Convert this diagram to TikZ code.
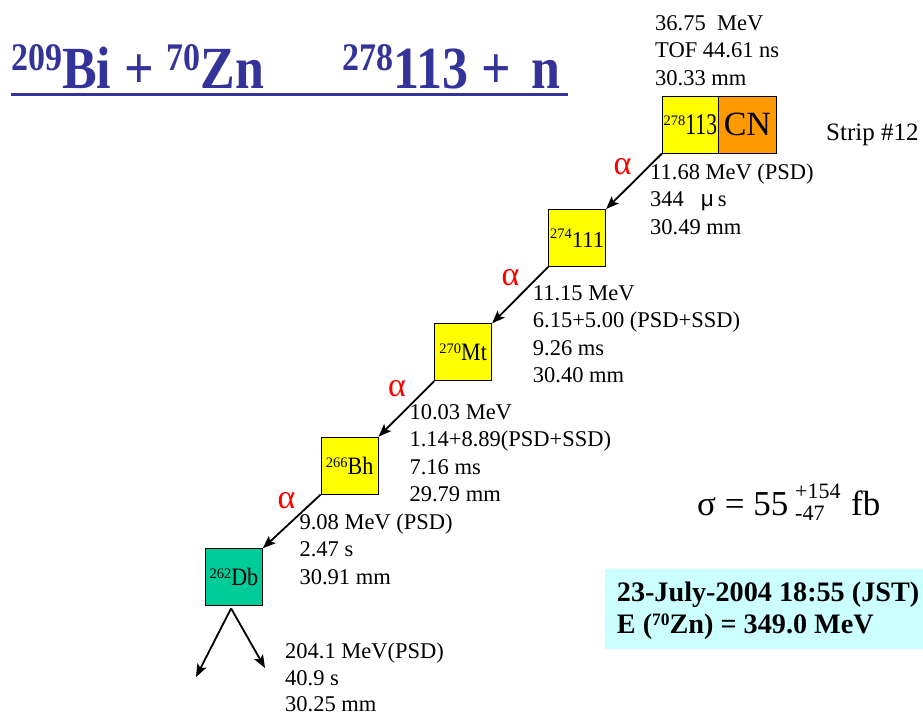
\documentclass[tikz,border=0pt]{standalone}
\usepackage{fontspec}
\setmainfont{Liberation Serif}
\newfontfamily\sansmu{Liberation Sans}
\usetikzlibrary{arrows.meta,calc}
\definecolor{titleblue}{RGB}{51,51,153}
\definecolor{boxyellow}{RGB}{255,255,0}
\definecolor{cnorange}{RGB}{255,153,0}
\definecolor{dbgreen}{RGB}{0,204,153}
\definecolor{notecyan}{RGB}{204,255,255}
\definecolor{alphared}{RGB}{255,0,0}
\newcommand{\nsup}[2]{\raisebox{#2}{\fontsize{14.5}{14.5}\selectfont #1}}
\newcommand{\tsup}[1]{\raisebox{15pt}{\fontsize{34}{34}\selectfont #1}}
\begin{document}
\begin{tikzpicture}[x=1pt,y=-1pt,
  nucl/.style={draw=black, line width=0.8pt, minimum width=57pt, minimum height=57pt,
               inner sep=0pt, anchor=north west, fill=boxyellow},
  info/.style={anchor=base west, inner sep=0pt, font=\fontsize{22.5}{27.5}\selectfont},
  alab/.style={text=alphared, font=\fontsize{34}{34}\selectfont, inner sep=0pt},
  decay/.style={line width=1.8pt, -{Stealth[length=13pt,width=10pt,inset=3pt]}},
  titletext/.style={anchor=base west, inner sep=0pt, text=titleblue},
  plain/.style={anchor=base west, inner sep=0pt},
]
\useasboundingbox (0,0) rectangle (923,715);

% title
\node[titletext] (titleL) at (11,88)
  {\scalebox{1}[1.15]{\fontsize{52}{52}\selectfont\bfseries \tsup{209}Bi + \tsup{70}Zn}};
\node[titletext] (titleR) at (342,88)
  {\scalebox{1}[1.15]{\fontsize{52}{52}\selectfont\bfseries \tsup{278}113 +\hspace{21pt}n}};
\draw[titleblue, line width=3pt] (10.7,94.6) -- (567.5,94.6);

% nuclei
\node[nucl, minimum width=56pt] (cn113) at (662,95.7)
  {\nsup{278}{9pt}\scalebox{0.72}[1]{\fontsize{30}{30}\selectfont 113}};
\node[nucl, fill=cnorange, minimum width=58pt] (cn) at (718,95.7)
  {\fontsize{34}{34}\selectfont CN};
\node[nucl] (n274) at (548.3,209)
  {\nsup{274}{9pt}{\fontsize{22.7}{22.7}\selectfont 111}};
\node[nucl] (mt) at (434.3,323.3)
  {\nsup{270}{7pt}\scalebox{0.88}[1]{\fontsize{25}{25}\selectfont Mt}};
\node[nucl] (bh) at (320.7,436.7)
  {\nsup{266}{7pt}\scalebox{0.88}[1]{\fontsize{25}{25}\selectfont Bh}};
\node[nucl, fill=dbgreen] (db) at (205,548.3)
  {\nsup{262}{7pt}\scalebox{0.88}[1]{\fontsize{25}{25}\selectfont Db}};

% decays
\draw[decay] (cn113.south west) -- (n274.north east);
\draw[decay] (n274.south west) -- (mt.north east);
\draw[decay] (mt.south west) -- (bh.north east);
\draw[decay] (bh.south west) -- (db.north east);
\coordinate (split) at ($(db.south)+(-2.8,2.3)$);
\coordinate (fragL) at (196,677);
\coordinate (fragR) at (265,668);
\draw[decay] (split) -- (fragL);
\draw[decay] (split) -- (fragR);

% alpha labels
\node[alab] (a1) at (622.5,167) {α};
\node[alab] (a2) at (510.5,277.5) {α};
\node[alab] (a3) at (397,389) {α};
\node[alab] (a4) at (286.5,500.5) {α};

% data
\node[info] (d0) at (655,30) {\begin{tabular}[t]{@{}l@{}}36.75\ \ MeV\\TOF 44.61 ns\\30.33 mm\end{tabular}};
\node[info] (d1) at (650,179.3) {\begin{tabular}[t]{@{}l@{}}11.68 MeV (PSD)\\344\hspace{17pt}{\sansmu μ}\hspace{4pt}s\\30.49 mm\end{tabular}};
\node[info] (d2) at (532.7,300) {\begin{tabular}[t]{@{}l@{}}11.15 MeV\\6.15+5.00 (PSD+SSD)\\9.26 ms\\30.40 mm\end{tabular}};
\node[info] (d3) at (409.3,419.3) {\begin{tabular}[t]{@{}l@{}}10.03 MeV\\1.14+8.89(PSD+SSD)\\7.16 ms\\29.79 mm\end{tabular}};
\node[info] (d4) at (299.3,529.3) {\begin{tabular}[t]{@{}l@{}}9.08 MeV (PSD)\\2.47 s\\30.91 mm\end{tabular}};
\node[info] (d5a) at (285,658.3) {204.1 MeV(PSD)};
\node[info] (d5b) at (285,685) {40.9 s};
\node[info] (d5c) at (285,711.5) {30.25 mm};
\node[plain, font=\fontsize{25}{25}\selectfont] (strip) at (826,140) {Strip \#12};

% cross section
\node[plain, font=\fontsize{35}{35}\selectfont] (sigma) at (697,515) {σ = 55};
\node[plain, font=\fontsize{22}{22}\selectfont] (sigup) at (795,498.5) {+154};
\node[plain, font=\fontsize{22}{22}\selectfont] (sigdn) at (795,520) {-47};
\node[plain, font=\fontsize{35}{35}\selectfont] (fb) at (851,515) {fb};

% date box
\node[fill=notecyan, anchor=north west, minimum width=318pt, minimum height=80pt, inner sep=0pt] (datebox) at (605,569) {};
\node[plain, font=\fontsize{28.2}{31.5}\selectfont\bfseries] (date) at (616.7,601.7)
  {\begin{tabular}[t]{@{}l@{}}23-July-2004 18:55 (JST)\\E (\raisebox{8pt}{\fontsize{17.5}{17.5}\selectfont 70}Zn) = 349.0 MeV\end{tabular}};
\end{tikzpicture}
\end{document}
